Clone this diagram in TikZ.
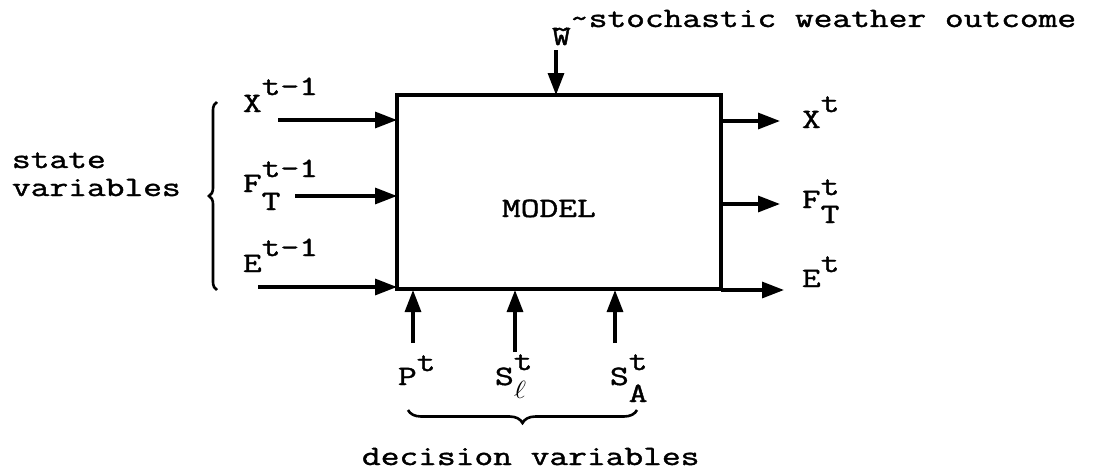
\documentclass[tikz,border=0pt]{standalone}
\usepackage{graphicx}
\usetikzlibrary{arrows.meta,decorations.pathreplacing}
\newcommand{\fbon}{\special{pdf:literal direct 2 Tr 0.35 w}}
\newcommand{\fboff}{\special{pdf:literal direct 0 Tr}}
\newcommand{\tw}[1]{{\fontsize{28}{30}\selectfont\ttfamily\scalebox{1.3}[1]{\fbon#1\fboff}}}
\newcommand{\supr}[2]{\raisebox{#1}{\tw{#2}}}
\begin{document}
\begin{tikzpicture}[x=1pt,y=-1pt,
  lbl/.style={anchor=base west,inner sep=0pt,outer sep=0pt},
  flow/.style={line width=3.2pt,-{Triangle[length=22pt,width=16pt]}},
  boxline/.style={line width=3.2pt},
  brc/.style={line width=2.6pt,decorate,decoration={brace,amplitude=#1}}]
\useasboundingbox (0,0) rectangle (1095,471);
% model box
\draw[boxline] (397,95) rectangle (721,289);
\node[lbl] (model) at (502,217) {\tw{MODEL}};
% weather input
\node[lbl] (w) at (552,45) {\tw{\~{W}}};
\node[lbl] (wtext) at (570,27) {\tw{\textasciitilde stochastic weather outcome}};
\coordinate (wa) at (556,50);
\coordinate (wb) at (556,95);
\draw[flow] (wa) -- (wb);
% left inputs
\node[lbl] (xin) at (243,112) {\tw{X}\supr{17pt}{t-1}};
\node[lbl] (fin) at (243,192) {\tw{F}\rlap{\supr{-18pt}{T}}\supr{15pt}{t-1}};
\node[lbl] (ein) at (243,272) {\tw{E}\supr{16pt}{t-1}};
\coordinate (xa) at (278,120); \coordinate (xb) at (397,120);
\coordinate (fa) at (295,196); \coordinate (fb) at (397,196);
\coordinate (ea) at (258,287); \coordinate (eb) at (397,287);
\draw[flow] (xa) -- (xb);
\draw[flow] (fa) -- (fb);
\draw[flow] (ea) -- (eb);
% state brace
\coordinate (sb1) at (217,290); \coordinate (sb2) at (217,102);
\draw[brc=8pt] (sb1) -- (sb2);
\node[lbl] (st1) at (12,168) {\tw{state}};
\node[lbl] (st2) at (12,196) {\tw{variables}};
% outputs
\coordinate (xo1) at (721,121); \coordinate (xo2) at (780,121);
\coordinate (fo1) at (721,204); \coordinate (fo2) at (780,204);
\coordinate (eo1) at (721,290); \coordinate (eo2) at (784,290);
\draw[flow] (xo1) -- (xo2);
\draw[flow] (fo1) -- (fo2);
\draw[flow] (eo1) -- (eo2);
\node[lbl] (xout) at (802,128) {\tw{X}\supr{16pt}{t}};
\node[lbl] (fout) at (802,208) {\tw{F}\rlap{\supr{-15pt}{T}}\supr{13pt}{t}};
\node[lbl] (eout) at (802,287) {\tw{E}\supr{15pt}{t}};
% decision inputs
\coordinate (pa) at (413,343); \coordinate (pb) at (413,290);
\coordinate (la) at (515,352); \coordinate (lb) at (515,290);
\coordinate (aa) at (615,343); \coordinate (ab) at (615,290);
\draw[flow] (pa) -- (pb);
\draw[flow] (la) -- (lb);
\draw[flow] (aa) -- (ab);
\node[lbl] (pt) at (398,385) {\tw{P}\supr{14pt}{t}};
\node[lbl] (slt) at (495,385) {\tw{S}\rlap{\raisebox{-13pt}{\fontsize{26}{28}\selectfont\scalebox{1.2}[1]{$\ell$}}}\supr{15pt}{t}};
\node[lbl] (sat) at (610,385) {\tw{S}\rlap{\supr{-17pt}{A}}\supr{15pt}{t}};
% decision brace
\coordinate (db1) at (637,410); \coordinate (db2) at (408,410);
\draw[brc=13pt] (db1) -- (db2);
\node[lbl] (dv) at (362,465) {\tw{decision variables}};
\end{tikzpicture}
\end{document}
